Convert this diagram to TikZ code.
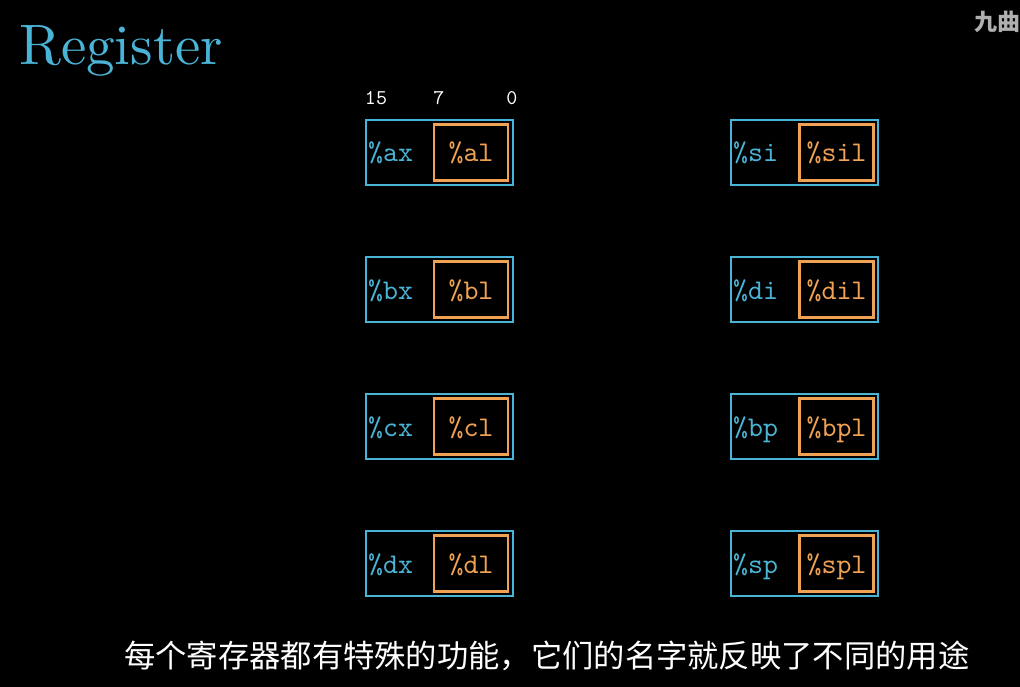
\documentclass[tikz,border=0pt]{standalone}
\usepackage{fontspec}
\newfontfamily\cjk{Noto Sans CJK SC}
\newfontfamily\titlefont{lmroman10-regular}[Extension=.otf]
\newfontfamily\regmono{lmmono10-regular}[Extension=.otf]
\definecolor{regblue}{RGB}{74,180,214}
\definecolor{regorange}{RGB}{240,162,84}
\definecolor{wmgray}{RGB}{175,175,175}
\begin{document}
\begin{tikzpicture}[x=1pt,y=-1pt,
  outerbox/.style={draw=regblue, line width=2.8pt, minimum width=147pt, minimum height=65pt, inner sep=0pt},
  innerbox/.style={draw=regorange, line width=2.8pt, minimum width=74pt, minimum height=56pt, inner sep=0pt},
  reglbl/.style={anchor=base west, inner sep=0pt, text=regblue, font=\regmono\fontsize{28.5}{28.5}\selectfont},
  sublbl/.style={anchor=base, inner sep=0pt, text=regorange, font=\regmono\fontsize{28.5}{28.5}\selectfont},
  bitlbl/.style={anchor=base, inner sep=0pt, text=white, font=\regmono\fontsize{21}{21}\selectfont}]
\clip (0,0) rectangle (1020,687);
\fill[black] (0,0) rectangle (1020,687);
\useasboundingbox (0,0) rectangle (1020,687);
% title
\node[anchor=base west, inner sep=0pt, text=regblue, font=\titlefont\fontsize{57}{57}\selectfont] (title) at (19,65) {Register};
% watermark
\node[anchor=west, inner sep=0pt, text=wmgray, font=\cjk\bfseries\fontsize{23}{23}\selectfont] (wm) at (974,22) {九曲};
% bit labels
\node[bitlbl] (b15) at (376,105) {15};
\node[bitlbl] (b7) at (439,105) {7};
\node[bitlbl] (b0) at (512,105) {0};
% left column
\foreach \i/\y/\r/\s in {1/152.5/ax/al, 2/289.5/bx/bl, 3/426.5/cx/cl, 4/563.5/dx/dl}{
  \node[outerbox] (L\i) at (439.5,\y) {};
  \node[innerbox] (Li\i) at (471,\y) {};
  \node[reglbl] (Lt\i) at (368,\y+9.5) {\%\r};
  \node[sublbl] (Ls\i) at (471,\y+9.5) {\%\s};
}
% right column
\foreach \i/\y/\r/\s in {1/152.5/si/sil, 2/289.5/di/dil, 3/426.5/bp/bpl, 4/563.5/sp/spl}{
  \node[outerbox] (R\i) at (804.5,\y) {};
  \node[innerbox] (Ri\i) at (836.5,\y) {};
  \node[reglbl] (Rt\i) at (733,\y+9.5) {\%\r};
  \node[sublbl] (Rs\i) at (836.5,\y+9.5) {\%\s};
}
% subtitle
\node[anchor=west, inner sep=0pt, text=white, font=\cjk\fontsize{31.3}{31.3}\selectfont] (sub) at (124,656) {每个寄存器都有特殊的功能，它们的名字就反映了不同的用途};
\end{tikzpicture}
\end{document}
